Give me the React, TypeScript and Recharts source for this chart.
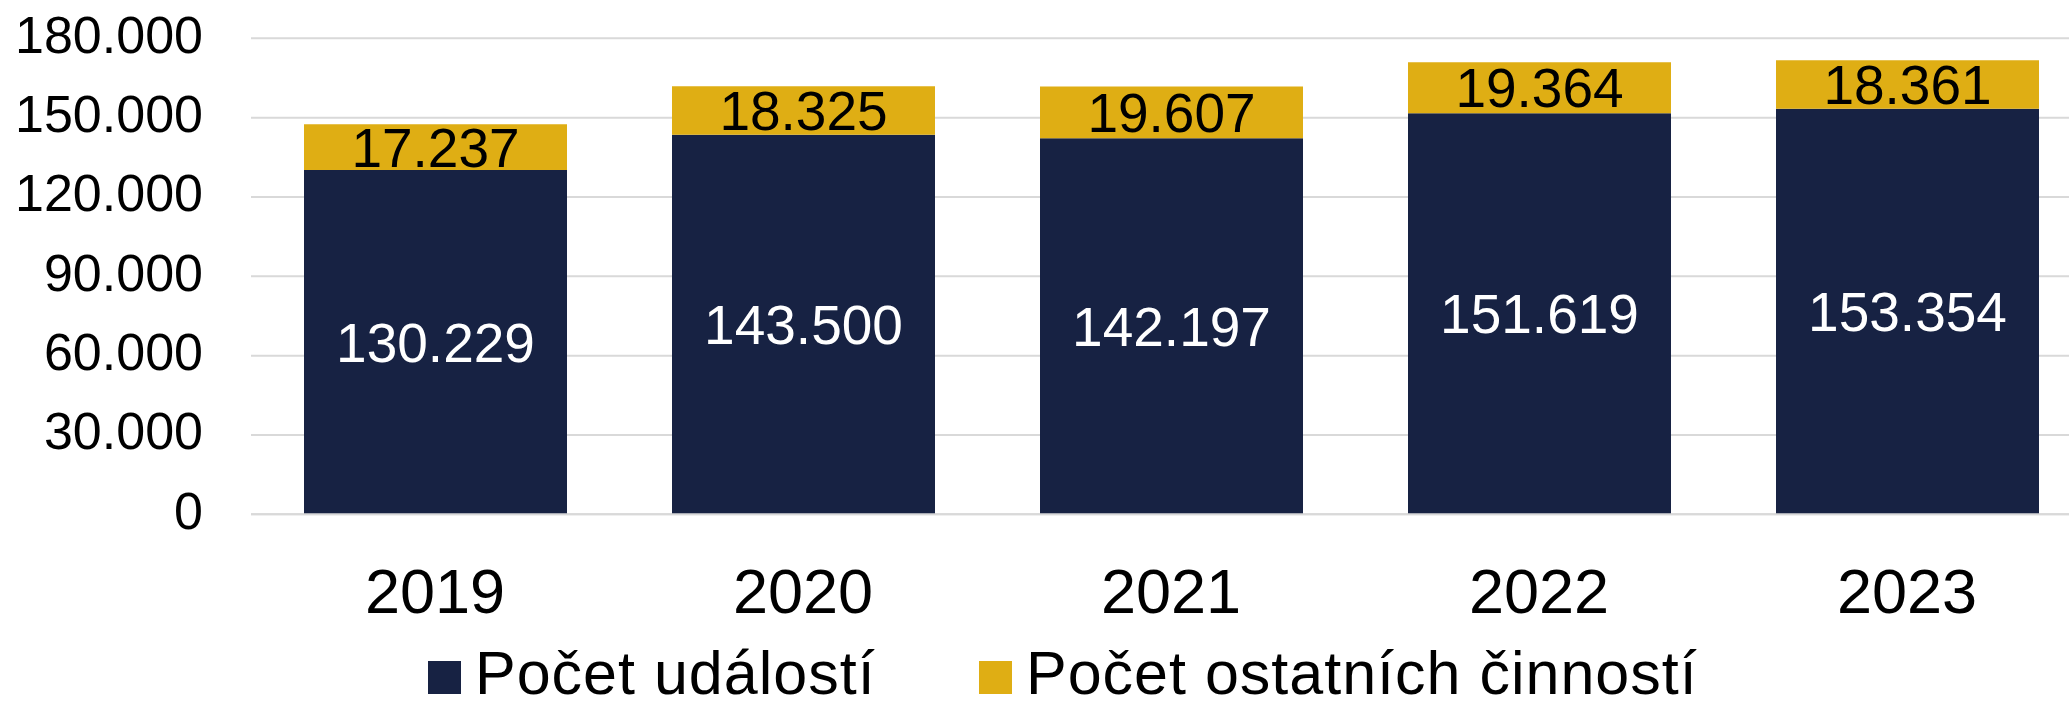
import { BarChart, Bar, XAxis, YAxis, CartesianGrid, Legend, LabelList } from 'recharts';

const years = ['2019', '2020', '2021', '2022', '2023'];
const udalosti = [130229, 143500, 142197, 151619, 153354];
const ostatni = [17237, 18325, 19607, 19364, 18361];
const yTicks = [0, 30000, 60000, 90000, 120000, 150000, 180000];
const seriesNames = ['Počet událostí', 'Počet ostatních činností'];

const NAVY = '#172243';
const GOLD = '#DFAE14';
const GRID = '#d9d9d9';
const FONT = '"Liberation Sans", Arial, sans-serif';

// 130229 -> "130.229"
const fmt = (v: any) => String(v).replace(/\B(?=(\d{3})+(?!\d))/g, '.');

const data = years.map((year, i) => ({ year, udalosti: udalosti[i], ostatni: ostatni[i] }));

const legendLeft = [428, 979];
const legendColors = [NAVY, GOLD];

const renderLegend = () => (
  <div
    style={{
      position: 'relative',
      height: 61,
      fontFamily: FONT,
      fontSize: 61,
      lineHeight: '61px',
      letterSpacing: 1,
      color: '#000',
      whiteSpace: 'nowrap',
    }}
  >
    {seriesNames.map((name, i) => (
      <span key={name} style={{ position: 'absolute', left: legendLeft[i], top: 0 }}>
        <span
          style={{
            display: 'inline-block',
            width: 33,
            height: 33,
            background: legendColors[i],
            marginRight: 14,
            verticalAlign: 'baseline',
          }}
        />
        {name}
      </span>
    ))}
  </div>
);

export default function App() {
  return (
    <div
      style={{
        position: 'fixed',
        left: 0,
        top: 0,
        width: 2069,
        height: 710,
        overflow: 'hidden',
        background: '#fff',
      }}
    >
      <BarChart
        width={2100}
        height={710}
        data={data}
        margin={{ top: 38.3, right: 9, bottom: 0, left: 0 }}
        barSize={263}
      >
        <CartesianGrid vertical={false} stroke={GRID} strokeWidth={2} />
        <XAxis
          dataKey="year"
          height={195.7}
          axisLine={{ stroke: GRID, strokeWidth: 2 }}
          tickLine={false}
          tickSize={0}
          tickMargin={54}
          interval={0}
          tick={{ fontSize: 63, fill: '#000', fontFamily: FONT }}
        />
        <YAxis
          width={251}
          domain={[0, 180000]}
          ticks={yTicks}
          interval={0}
          tickFormatter={fmt}
          axisLine={false}
          tickLine={false}
          tickSize={0}
          tickMargin={48}
          tick={{ fontSize: 52, fill: '#000', fontFamily: FONT, dy: -4 }}
        />
        <Legend
          verticalAlign="middle"
          align="center"
          layout="horizontal"
          content={renderLegend}
          wrapperStyle={{ left: 0, top: 643, width: 2069, height: 61 }}
        />
        <Bar dataKey="udalosti" name={seriesNames[0]} stackId="a" fill={NAVY} isAnimationActive={false}>
          <LabelList
            dataKey="udalosti"
            position="center"
            formatter={fmt}
            fill="#fff"
            fontSize={55}
            fontFamily={FONT}
          />
        </Bar>
        <Bar dataKey="ostatni" name={seriesNames[1]} stackId="a" fill={GOLD} isAnimationActive={false}>
          <LabelList
            dataKey="ostatni"
            position="center"
            formatter={fmt}
            fill="#000"
            fontSize={55}
            fontFamily={FONT}
          />
        </Bar>
      </BarChart>
    </div>
  );
}
